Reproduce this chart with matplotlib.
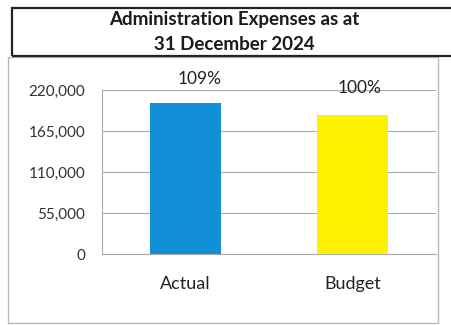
import matplotlib.pyplot as plt
from matplotlib.patches import Rectangle

categories = ["Actual", "Budget"]
values = [203000, 186000]
pct_labels = ["109%", "100%"]
yticks = [0, 55000, 110000, 165000, 220000]
title_lines = ["Administration Expenses as at", "31 December 2024"]

plt.rcParams['font.family'] = ['Lato', 'DejaVu Sans']

W, H = 451, 325
fig = plt.figure(figsize=(W / 100, H / 100), dpi=100)
fig.patch.set_facecolor("white")

# outer chart frame
fig.patches.append(Rectangle((8 / W, 1 - 323 / H), 430 / W, 266 / H,
                             transform=fig.transFigure, fill=False,
                             edgecolor="#b8b8b8", linewidth=1.0))
# title box
fig.patches.append(Rectangle((12 / W, 1 - 56 / H), 450 / W, 48 / H,
                             transform=fig.transFigure, fill=False,
                             edgecolor="#222222", linewidth=1.6))
fig.text(234 / W, 1 - 20 / H, title_lines[0], ha="center", va="center",
         fontsize=13.5, fontweight="bold", color="#1a1a1a")
fig.text(234 / W, 1 - 45 / H, title_lines[1], ha="center", va="center",
         fontsize=13.5, fontweight="bold", color="#1a1a1a")

ax = fig.add_axes([102 / W, 1 - 254 / H, 334 / W, 164 / H])
colors = ["#1190d8", "#fff200"]
x = range(len(categories))
ax.bar(x, values, width=0.42, color=colors, zorder=3)
ax.set_xlim(-0.5, 1.5)
ax.set_ylim(0, 220000)
ax.set_yticks(yticks)
ax.set_yticklabels([f"{v:,}" for v in yticks], fontsize=11, color="#333333")
ax.set_xticks(list(x))
ax.set_xticklabels(categories, fontsize=13, color="#222222")
ax.tick_params(axis="x", length=0, pad=16)
ax.tick_params(axis="y", length=0, pad=12)
ax.grid(axis="y", color="#aaaaaa", linewidth=0.8, zorder=0)
for s in ["top", "right"]:
    ax.spines[s].set_visible(False)
ax.spines["left"].set_color("#aaaaaa")
ax.spines["bottom"].set_color("#aaaaaa")
ax.spines["left"].set_linewidth(0.8)
ax.spines["bottom"].set_linewidth(0.8)

offsets = [(10, 2), (5, -4)]
for xi, lab, off in zip(x, pct_labels, offsets):
    ax.annotate(lab, (xi, 220000), xytext=off,
                textcoords="offset points", ha="center", va="bottom",
                fontsize=12.5, color="#222222", annotation_clip=False)

fig.savefig("out.png", dpi=100)
